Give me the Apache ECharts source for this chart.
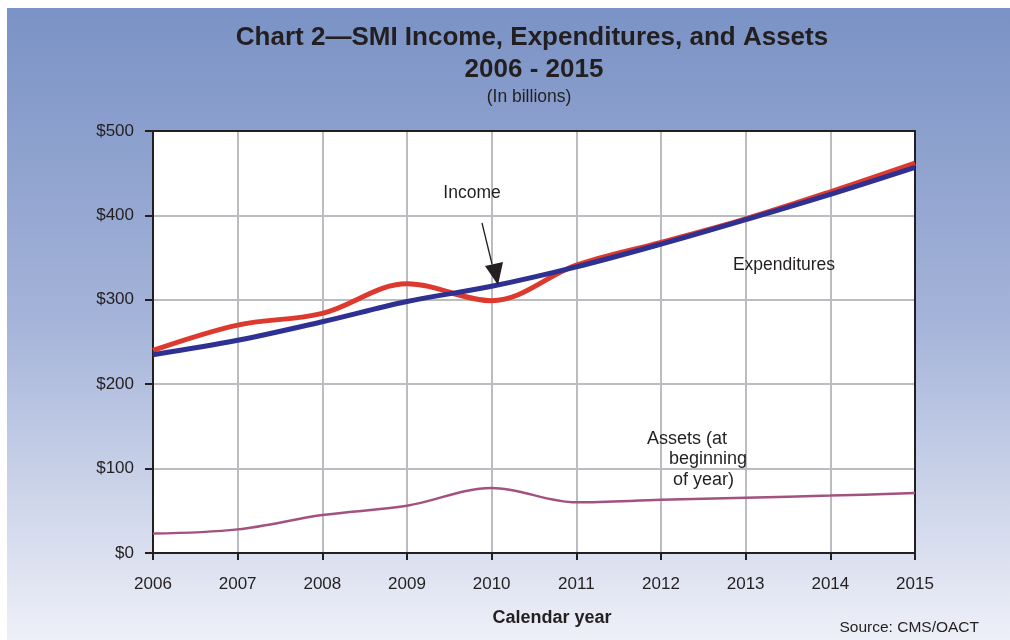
<!DOCTYPE html>
<html>
<head>
<meta charset="utf-8">
<title>SMI Income, Expenditures, and Assets</title>
<script src="https://cdn.jsdelivr.net/npm/echarts@6/dist/echarts.min.js"></script>
<style>
  html, body { margin: 0; padding: 0; background: #ffffff; }
  #chart { width: 1010px; height: 640px; }
</style>
</head>
<body>
<div id="chart"></div>
<script>
// Calendar years on the horizontal axis
const years = [2006, 2007, 2008, 2009, 2010, 2011, 2012, 2013, 2014, 2015];
// SMI amounts, in billions of dollars
const income       = [240, 270, 284, 319, 299, 341, 368, 396, 428, 462];
const expenditures = [235, 252, 274, 298, 316, 339, 366, 395, 425, 457];
const assets       = [23, 28, 45, 56, 77, 60, 63, 65.5, 68, 71];
// Dollar tick values on the vertical axis
const yTicks = [0, 100, 200, 300, 400, 500];

const FONT = "'Liberation Sans', Arial, Helvetica, sans-serif";
const INK = '#231f20';
const GRID_GRAY = '#bbbcbf';

const pairs = vals => years.map((y, i) => [y, vals[i]]);

// Plain frame axes closing the plot box on the top and right
const frameX = {
  type: 'value', position: 'top',
  min: years[0], max: years[years.length - 1],
  axisLine: { show: true, onZero: false, lineStyle: { color: INK, width: 2 } },
  axisTick: { show: false }, axisLabel: { show: false }, splitLine: { show: false }
};
const frameY = {
  type: 'value', position: 'right',
  min: yTicks[0], max: yTicks[yTicks.length - 1],
  axisLine: { show: true, onZero: false, lineStyle: { color: INK, width: 2 } },
  axisTick: { show: false }, axisLabel: { show: false }, splitLine: { show: false }
};

const chart = echarts.init(document.getElementById('chart'), null, { renderer: 'canvas' });

chart.setOption({
  animation: false,
  backgroundColor: '#ffffff',
  textStyle: { fontFamily: FONT, color: INK },
  grid: {
    left: 153, top: 131, right: 95, bottom: 87,
    show: true, backgroundColor: '#ffffff', borderWidth: 0
  },
  xAxis: [{
    type: 'value',
    min: years[0], max: years[years.length - 1], interval: 1,
    axisLine: { show: true, onZero: false, lineStyle: { color: INK, width: 2 } },
    axisTick: { show: true, length: 7, lineStyle: { color: INK, width: 2 } },
    axisLabel: { color: INK, fontSize: 17, fontFamily: FONT, margin: 23,
                 formatter: v => String(v) },
    splitLine: { show: true, lineStyle: { color: GRID_GRAY, width: 2 } }
  }, frameX],
  yAxis: [{
    type: 'value',
    min: yTicks[0], max: yTicks[yTicks.length - 1], interval: yTicks[1] - yTicks[0],
    axisLine: { show: true, onZero: false, lineStyle: { color: INK, width: 2 } },
    axisTick: { show: true, length: 8, lineStyle: { color: INK, width: 2 } },
    axisLabel: { color: INK, fontSize: 17, fontFamily: FONT, margin: 19,
                 formatter: v => '$' + v },
    splitLine: { show: true, lineStyle: { color: GRID_GRAY, width: 2 } }
  }, frameY],
  series: [
    {
      name: 'Income', type: 'line', data: pairs(income),
      smooth: 0.35, showSymbol: false, z: 3,
      lineStyle: { color: '#dc3a2e', width: 5 }
    },
    {
      name: 'Expenditures', type: 'line', data: pairs(expenditures),
      smooth: 0.35, showSymbol: false, z: 4,
      lineStyle: { color: '#2e3192', width: 5 }
    },
    {
      name: 'Assets (at beginning of year)', type: 'line', data: pairs(assets),
      smooth: 0.35, showSymbol: false, z: 3,
      lineStyle: { color: '#a3527f', width: 2.5 }
    }
  ],
  graphic: [
    // panel background
    {
      type: 'rect', z: -10, silent: true,
      shape: { x: 7, y: 8, width: 1003, height: 632 },
      style: {
        fill: new echarts.graphic.LinearGradient(0, 0, 0, 1, [
          { offset: 0, color: '#7a92c5' },
          { offset: 0.5, color: '#a5b4d9' },
          { offset: 1, color: '#eef0f8' }
        ])
      }
    },
    // titles
    { type: 'text', x: 532, y: 38, z: 10,
      style: { text: 'Chart 2\u2014SMI Income, Expenditures, and Assets', fill: INK,
               font: 'bold 26px ' + FONT, textAlign: 'center', textVerticalAlign: 'middle' } },
    { type: 'text', x: 534, y: 70, z: 10,
      style: { text: '2006 - 2015', fill: INK,
               font: 'bold 26px ' + FONT, textAlign: 'center', textVerticalAlign: 'middle' } },
    { type: 'text', x: 529, y: 97, z: 10,
      style: { text: '(In billions)', fill: INK,
               font: '17.5px ' + FONT, textAlign: 'center', textVerticalAlign: 'middle' } },
    // axis title and source
    { type: 'text', x: 552, y: 618, z: 10,
      style: { text: 'Calendar year', fill: INK,
               font: 'bold 18px ' + FONT, textAlign: 'center', textVerticalAlign: 'middle' } },
    { type: 'text', x: 979, y: 628, z: 10,
      style: { text: 'Source: CMS/OACT', fill: INK,
               font: '15.5px ' + FONT, textAlign: 'right', textVerticalAlign: 'middle' } },
    // series labels
    { type: 'text', x: 472, y: 193, z: 10,
      style: { text: 'Income', fill: INK,
               font: '17.5px ' + FONT, textAlign: 'center', textVerticalAlign: 'middle' } },
    { type: 'text', x: 784, y: 265, z: 10,
      style: { text: 'Expenditures', fill: INK,
               font: '17.5px ' + FONT, textAlign: 'center', textVerticalAlign: 'middle' } },
    { type: 'text', x: 647, y: 439, z: 10,
      style: { text: 'Assets (at', fill: INK,
               font: '18px ' + FONT, textAlign: 'left', textVerticalAlign: 'middle' } },
    { type: 'text', x: 669, y: 459, z: 10,
      style: { text: 'beginning', fill: INK,
               font: '18px ' + FONT, textAlign: 'left', textVerticalAlign: 'middle' } },
    { type: 'text', x: 673, y: 480, z: 10,
      style: { text: 'of year)', fill: INK,
               font: '18px ' + FONT, textAlign: 'left', textVerticalAlign: 'middle' } },
    // pointer from the Income label
    { type: 'line', z: 10,
      shape: { x1: 482, y1: 223, x2: 492, y2: 264 },
      style: { stroke: INK, lineWidth: 1.3 } },
    { type: 'polygon', z: 10,
      shape: { points: [[498, 285], [485, 266], [503, 262]] },
      style: { fill: INK } }
  ]
});
</script>
</body>
</html>
